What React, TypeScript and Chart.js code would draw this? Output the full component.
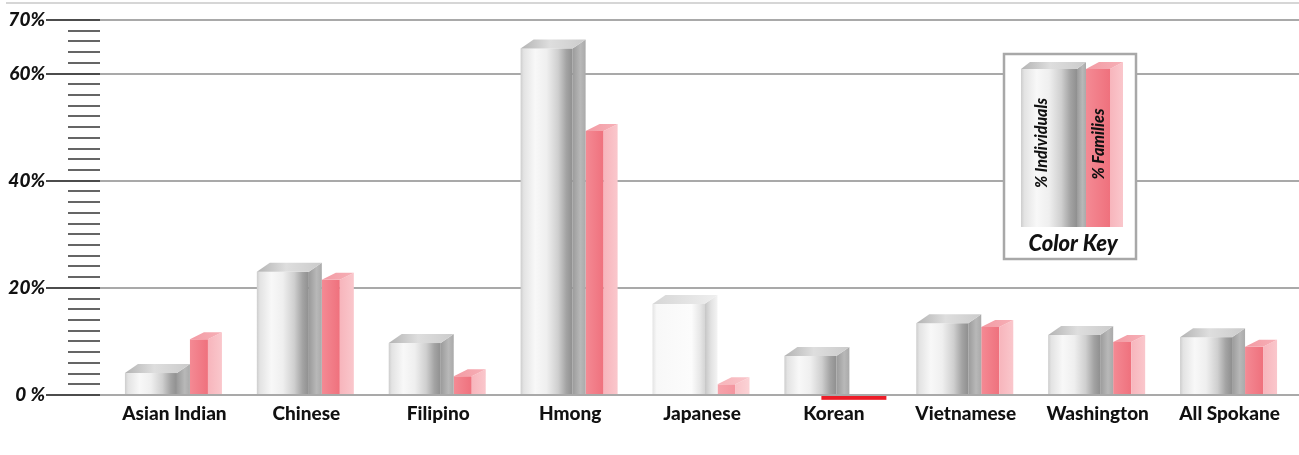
import { useEffect, useRef } from 'react';
import { Chart, registerables } from 'chart.js';

Chart.register(...registerables);

// Share of people / families below the poverty line, by Asian group
const categories = [
  'Asian Indian',
  'Chinese',
  'Filipino',
  'Hmong',
  'Japanese',
  'Korean',
  'Vietnamese',
  'Washington',
  'All Spokane',
];
const individualsPct = [4.1, 23.0, 9.7, 64.7, 17.0, 7.3, 13.4, 11.2, 10.8];
const familiesPct = [10.4, 21.5, 3.5, 49.3, 2.0, -0.9, 12.7, 9.9, 9.0];
const seriesNames = ['% Individuals', '% Families'];
const labeledTicks = [0, 20, 40, 60, 70];
const keyTitle = 'Color Key';
// this group is printed in a washed-out tint
const paleCategory = 'Japanese';

const FONT = 'Lato, "Open Sans", "DejaVu Sans", sans-serif';

type Stops = [number, string][];
type Look = { front: Stops; side: Stops; top: Stops };

const silver: Look = {
  front: [
    [0, '#cdcdcd'],
    [0.06, '#e3e3e3'],
    [0.28, '#f8f8f8'],
    [0.5, '#efefef'],
    [0.72, '#cfcfcf'],
    [0.88, '#a3a3a3'],
    [1, '#8f8f8f'],
  ],
  side: [
    [0, '#9b9b9b'],
    [0.6, '#b8b8b8'],
    [1, '#aaaaaa'],
  ],
  top: [
    [0, '#b3b3b3'],
    [0.45, '#dedede'],
    [1, '#cbcbcb'],
  ],
};

const paleSilver: Look = {
  front: [
    [0, '#e4e4e4'],
    [0.08, '#f8f8f8'],
    [0.75, '#fcfcfc'],
    [0.92, '#e6e6e6'],
    [1, '#d6d6d6'],
  ],
  side: [
    [0, '#c4c4c4'],
    [0.5, '#e2e2e2'],
    [1, '#f4f4f4'],
  ],
  top: [
    [0, '#d6d6d6'],
    [1, '#efefef'],
  ],
};

const rose: Look = {
  front: [
    [0, '#f48a94'],
    [1, '#ef717d'],
  ],
  side: [
    [0, '#f7b5bc'],
    [1, '#fac7cc'],
  ],
  top: [
    [0, '#f39aa3'],
    [1, '#f6b0b7'],
  ],
};

const paleRose: Look = {
  front: [
    [0, '#f6a3ab'],
    [1, '#f4959f'],
  ],
  side: [
    [0, '#f9c3c8'],
    [1, '#fbd3d6'],
  ],
  top: [
    [0, '#f7b3b9'],
    [1, '#f9c6cb'],
  ],
};

function hGrad(ctx: CanvasRenderingContext2D, x0: number, x1: number, stops: Stops) {
  const g = ctx.createLinearGradient(x0, 0, x1, 0);
  stops.forEach(([o, c]) => g.addColorStop(o, c));
  return g;
}

// Front face, lit side face and top face of a box-shaped bar
function drawPrism(
  ctx: CanvasRenderingContext2D,
  left: number,
  right: number,
  top: number,
  base: number,
  side: number,
  cap: number,
  look: Look
) {
  const xf = right - side;
  ctx.fillStyle = hGrad(ctx, left, xf, look.front);
  ctx.fillRect(left, top, xf - left, base - top);

  ctx.fillStyle = hGrad(ctx, xf, right, look.side);
  ctx.beginPath();
  ctx.moveTo(xf, top);
  ctx.lineTo(right, top - cap);
  ctx.lineTo(right, base);
  ctx.lineTo(xf, base);
  ctx.closePath();
  ctx.fill();

  ctx.fillStyle = hGrad(ctx, left, right, look.top);
  ctx.beginPath();
  ctx.moveTo(left, top);
  ctx.lineTo(left + side, top - cap);
  ctx.lineTo(right, top - cap);
  ctx.lineTo(xf, top);
  ctx.closePath();
  ctx.fill();
}

const prismBars = {
  id: 'prismBars',
  beforeDraw(chart: any) {
    const ctx: CanvasRenderingContext2D = chart.ctx;
    ctx.save();
    ctx.fillStyle = '#ffffff';
    ctx.fillRect(0, 0, chart.width, chart.height);
    ctx.strokeStyle = '#c9c9c9';
    ctx.lineWidth = 1.5;
    ctx.beginPath();
    ctx.moveTo(6, 3);
    ctx.lineTo(chart.width, 3);
    ctx.stroke();
    ctx.restore();
  },
  beforeDatasetsDraw(chart: any) {
    const ctx: CanvasRenderingContext2D = chart.ctx;
    const yScale = chart.scales.y;
    const left = chart.chartArea.left;
    ctx.save();
    yScale.ticks.forEach((t: any) => {
      const y = Math.round(yScale.getPixelForValue(t.value));
      const major = labeledTicks.includes(t.value);
      ctx.strokeStyle = '#111111';
      ctx.lineWidth = major ? 1.6 : 1.3;
      ctx.beginPath();
      ctx.moveTo(major ? 46 : 68, y);
      ctx.lineTo(100, y);
      ctx.stroke();
      if (major) {
        ctx.strokeStyle = '#a9a9a9';
        ctx.lineWidth = 2;
        ctx.beginPath();
        ctx.moveTo(100, y);
        ctx.lineTo(left, y);
        ctx.stroke();
      }
    });
    ctx.restore();
  },
  afterDatasetsDraw(chart: any) {
    const ctx: CanvasRenderingContext2D = chart.ctx;
    const yScale = chart.scales.y;
    ctx.save();
    [1, 0].forEach((di) => {
      const meta = chart.getDatasetMeta(di);
      const values: number[] = chart.data.datasets[di].data;
      const side = di === 0 ? 13 : 14;
      const cap = di === 0 ? 9 : 7;
      meta.data.forEach((el: any, i: number) => {
        const { x, y, base, width } = el.getProps(['x', 'y', 'base', 'width'], true);
        const l = x - width / 2;
        const r = x + width / 2;
        if (values[i] < 0) {
          // below-zero value: flat red strip under the axis
          const yNeg = yScale.getPixelForValue(values[i]);
          const y0 = yScale.getPixelForValue(0);
          ctx.fillStyle = '#ec1c27';
          ctx.fillRect(l - 28, y0 + 1, r - l + 33, yNeg - y0 - 1);
          return;
        }
        const pale = categories[i] === paleCategory;
        const look = di === 0 ? (pale ? paleSilver : silver) : pale ? paleRose : rose;
        drawPrism(ctx, l, r, y, base, side, cap, look);
      });
    });
    ctx.restore();
  },
  afterDraw(chart: any) {
    const ctx: CanvasRenderingContext2D = chart.ctx;
    ctx.save();
    // colour key box
    ctx.fillStyle = '#ffffff';
    ctx.fillRect(1004, 54, 132, 205);
    ctx.strokeStyle = '#a8a8a8';
    ctx.lineWidth = 2.5;
    ctx.strokeRect(1004, 54, 132, 205);

    drawPrism(ctx, 1021, 1086, 69, 227, 9, 7, silver);
    drawPrism(ctx, 1086, 1123, 69, 227, 13, 7, rose);

    ctx.fillStyle = '#111111';
    ctx.textAlign = 'center';
    ctx.textBaseline = 'middle';
    ctx.font = `italic 900 16px ${FONT}`;
    [
      [seriesNames[0], 1042, 143],
      [seriesNames[1], 1099, 144],
    ].forEach(([txt, cx, cy]) => {
      ctx.save();
      ctx.translate(cx as number, cy as number);
      ctx.rotate(-Math.PI / 2);
      ctx.fillText(txt as string, 0, 0);
      ctx.restore();
    });
    ctx.font = `italic 900 22px ${FONT}`;
    ctx.fillText(keyTitle, 1073, 244);
    ctx.restore();
  },
};

export default function App() {
  const ref = useRef<HTMLCanvasElement | null>(null);

  useEffect(() => {
    if (!ref.current) return;
    const chart = new Chart(ref.current, {
      type: 'bar',
      data: {
        labels: categories,
        datasets: [
          {
            label: seriesNames[0],
            data: individualsPct,
            barThickness: 65,
            backgroundColor: 'rgba(0,0,0,0)',
            borderWidth: 0,
          },
          {
            label: seriesNames[1],
            data: familiesPct,
            barThickness: 32,
            backgroundColor: 'rgba(0,0,0,0)',
            borderWidth: 0,
          },
        ],
      },
      options: {
        responsive: true,
        maintainAspectRatio: false,
        animation: false,
        events: [],
        layout: { padding: { top: 20, right: 9, bottom: 0, left: 0 } },
        plugins: {
          legend: { display: false },
          tooltip: { enabled: false },
          title: { display: false },
        },
        scales: {
          x: {
            grid: { display: false, drawTicks: false },
            border: { display: false },
            ticks: {
              color: '#111111',
              padding: 7,
              labelOffset: -15.5,
              autoSkip: false,
              maxRotation: 0,
              font: { family: FONT, weight: '900', size: 19 },
            },
            afterFit: (s: any) => {
              s.height = 60;
            },
          },
          y: {
            min: 0,
            max: 70,
            border: { display: false },
            grid: {
              drawTicks: false,
              lineWidth: 2,
              color: (c: any) =>
                labeledTicks.includes(c.tick?.value) ? '#a9a9a9' : 'rgba(0,0,0,0)',
            },
            ticks: {
              stepSize: 2,
              autoSkip: false,
              padding: 79,
              color: '#111111',
              font: { family: FONT, style: 'italic', weight: '900', size: 19 },
              callback: (v: any) =>
                labeledTicks.includes(v) ? (v === 0 ? '0 %' : `${v}%`) : '',
            },
            afterFit: (s: any) => {
              s.width = 124;
              s.paddingTop = 0;
              s.paddingBottom = 0;
            },
          },
        },
      },
      plugins: [prismBars],
    });
    return () => chart.destroy();
  }, []);

  return (
    <div
      style={{
        position: 'absolute',
        left: 0,
        top: 0,
        width: 1299,
        height: 455,
        overflow: 'hidden',
        background: '#ffffff',
      }}
    >
      <div style={{ position: 'relative', width: 1320, height: 455 }}>
        <canvas ref={ref} />
      </div>
    </div>
  );
}
